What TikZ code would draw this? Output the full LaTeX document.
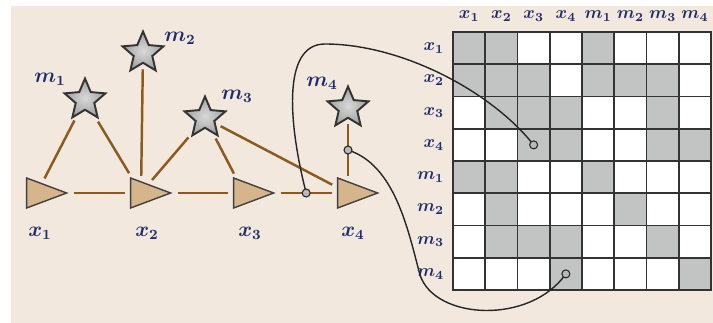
\documentclass[tikz,border=0pt]{standalone}
\usepackage{amsmath}
\usepackage{xcolor}
\usepackage{tikz}
\usetikzlibrary{shapes.geometric}

\definecolor{paper}{HTML}{F2E8DE}
\definecolor{linkbrown}{HTML}{8C5A1E}
\definecolor{trifill}{HTML}{D6B48C}
\definecolor{labelblue}{HTML}{1E2C6A}
\colorlet{cell0}{white}
\definecolor{cell1}{HTML}{C2C4C4}

\begin{document}
\begin{tikzpicture}[x=0.02cm,y=-0.02cm]
  \tikzset{
    pose/.style={isosceles triangle, isosceles triangle stretches, minimum width=0.6cm, minimum height=0.8cm, inner sep=0pt, draw=black!75, line width=0.8pt, fill=trifill},
    landmark/.style={star, star points=5, star point ratio=2.2, minimum size=0.86cm, inner sep=0pt, draw=black!80, line width=1.1pt, inner color=gray!30, outer color=gray!75},
    link/.style={draw=linkbrown, line width=1.4pt, shorten <=3pt, shorten >=3pt},
    cable/.style={draw=black!85, line width=0.8pt},
    joint/.style={circle, draw=black!85, fill=gray!55, line width=0.6pt, minimum size=0.16cm, inner sep=0pt},
    cell/.style={draw=black!80, line width=1.1pt, minimum size=0.645cm, inner sep=0pt},
    lab/.style={text=labelblue, font=\large\boldmath},
    head/.style={text=labelblue, font=\boldmath}
  }
  \useasboundingbox (0,0) rectangle (713,323);
  \fill[paper] (11,6) rectangle (713,323);

  % information matrix
  \foreach \rowbits [count=\r] in {{1,1,0,0,1,0,0,0},{1,1,1,0,1,1,1,0},{0,1,1,1,0,0,1,0},{0,0,1,1,0,0,1,1},
                                   {1,1,0,0,1,0,0,0},{0,1,0,0,0,1,0,0},{0,1,1,1,0,0,1,0},{0,0,0,1,0,0,0,1}}
    \foreach \b [count=\c] in \rowbits
      \node[cell, fill=cell\b] (c-\r-\c) at ({436.875+32.25*\c},{15.875+32.25*\r}) {};
  \foreach \t [count=\c] in {x_1,x_2,x_3,x_4,m_1,m_2,m_3,m_4} {
    \node[head, above=2pt] (h-\c) at (c-1-\c.north) {$\t$};
    \node[head, left=1pt] (v-\c) at (c-\c-1.west) {$\t$};
  }

  % poses
  \node[pose] (x1) at (37,193) {};
  \node[pose] (x2) at (141,193) {};
  \node[pose] (x3) at (244,193) {};
  \node[pose] (x4) at (348,193) {};
  \node[lab] (lx1) at (40,233) {$x_1$};
  \node[lab] (lx2) at (147,233) {$x_2$};
  \node[lab] (lx3) at (250,233) {$x_3$};
  \node[lab] (lx4) at (353,233) {$x_4$};

  % landmarks
  \node[landmark] (m1) at (85,100) {};
  \node[landmark] (m2) at (143,53) {};
  \node[landmark] (m3) at (205,118) {};
  \node[landmark] (m4) at (348,108) {};
  \node[lab] (lm1) at (50,79) {$m_1$};
  \node[lab] (lm2) at (180,38) {$m_2$};
  \node[lab] (lm3) at (237,96) {$m_3$};
  \node[lab] (lm4) at (322,83) {$m_4$};

  % constraints
  \draw[link] (x1) -- (x2);
  \draw[link] (x2) -- (x3);
  \draw[link] (x3) -- coordinate[midway] (j34) (x4);
  \draw[link] (m1) -- (x1);
  \draw[link] (m1) -- (x2);
  \draw[link] (m2) -- (x2);
  \draw[link] (m3) -- (x2);
  \draw[link] (m3) -- (x3);
  \draw[link] (m3) -- (x4);
  \draw[link] (m4) -- coordinate[midway] (j4) (x4);

  % links into the matrix
  \draw[cable] (j34) .. controls (290,130) and (280,44) .. (325,44) .. controls (400,44) and (490,90) .. (c-4-3.center);
  \draw[cable] (j4) .. controls (395,165) and (408,230) .. (420,275) .. controls (435,320) and (530,325) .. (c-8-4.center);
  \node[joint] (d34) at (j34) {};
  \node[joint] (d4) at (j4) {};
  \node[joint] (e43) at (c-4-3) {};
  \node[joint] (e84) at (c-8-4) {};
\end{tikzpicture}
\end{document}
